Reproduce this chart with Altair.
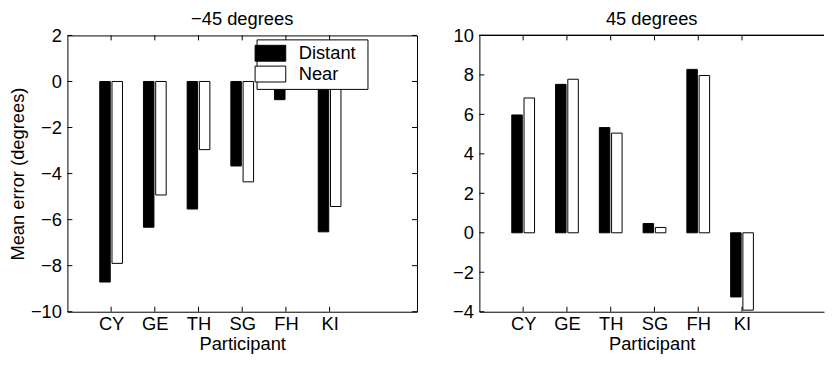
import altair as alt
import pandas as pd

participants = ["CY", "GE", "TH", "SG", "FH", "KI"]
conditions = ["Distant", "Near"]
neg45_distant = [-8.71, -6.33, -5.54, -3.67, -0.79, -6.53]
neg45_near = [-7.90, -4.93, -2.96, -4.36, -0.15, -5.43]
pos45_distant = [5.97, 7.52, 5.33, 0.47, 8.28, -3.25]
pos45_near = [6.83, 7.78, 5.05, 0.27, 7.97, -3.92]
neg45_yticks = [-10, -8, -6, -4, -2, 0, 2]
pos45_yticks = [-4, -2, 0, 2, 4, 6, 8, 10]

FONT = "Liberation Sans"
FS = 18.5
H = 279
W_LEFT = 353
W_RIGHT = 348
TICK = 5


def bars_df(distant, near):
    rows = []
    for i, p in enumerate(participants):
        rows.append({"participant": p, "idx": i + 1, "condition": conditions[0], "value": distant[i]})
        rows.append({"participant": p, "idx": i + 1, "condition": conditions[1], "value": near[i]})
    return pd.DataFrame(rows)


label_expr = "[" + ",".join("'%s'" % p for p in participants) + "][datum.value - 1]"
xticks_df = pd.DataFrame({"idx": list(range(1, len(participants) + 1))})


def panel(distant, near, yticks, title, width, xmax, ytitle, legend):
    df = bars_df(distant, near)
    xscale = alt.Scale(domain=[0, xmax], nice=False, zero=False)
    yscale = alt.Scale(domain=[yticks[0], yticks[-1]], nice=False, zero=False)
    xaxis = alt.Axis(values=list(range(1, len(participants) + 1)), labelExpr=label_expr,
                     ticks=False, grid=False, domain=(legend is None), domainColor="black",
                     labelFont=FONT, labelFontSize=FS, labelColor="black", labelPadding=2.5,
                     title="Participant", titleFont=FONT, titleFontSize=FS, titleFontWeight="normal",
                     titleColor="black", titlePadding=2)
    yaxis = alt.Axis(values=yticks, ticks=False, grid=False, domain=(legend is None), domainColor="black",
                     labelFont=FONT, labelFontSize=FS, labelColor="black", labelPadding=6,
                     title=ytitle, titleFont=FONT, titleFontSize=FS, titleFontWeight="normal",
                     titleColor="black", titlePadding=3)
    if legend is None:
        fill = alt.Fill("condition:N", scale=alt.Scale(domain=conditions, range=["black", "white"]), legend=None)
    else:
        fill = alt.Fill("condition:N", scale=alt.Scale(domain=conditions, range=["black", "white"]), legend=legend)

    bars = alt.Chart(df).transform_calculate(
        x0="datum.idx + (datum.condition == 'Distant' ? -0.26 : 0.02)",
        x1="datum.idx + (datum.condition == 'Distant' ? -0.02 : 0.26)",
        zero="0",
    ).mark_bar(stroke="black", strokeWidth=1).encode(
        x=alt.X("x0:Q", scale=xscale, axis=xaxis, title="Participant"),
        x2="x1:Q",
        y=alt.Y("value:Q", scale=yscale, axis=yaxis, title=ytitle),
        y2="zero:Q",
        fill=fill,
    )

    ydf = pd.DataFrame({"t": yticks})
    left_ticks = alt.Chart(ydf).mark_rule(color="black", strokeWidth=1).encode(
        y=alt.Y("t:Q", scale=yscale, axis=yaxis, title=ytitle),
        x=alt.value(0), x2=alt.value(TICK))
    right_ticks = alt.Chart(ydf).mark_rule(color="black", strokeWidth=1).encode(
        y=alt.Y("t:Q", scale=yscale, axis=yaxis, title=ytitle),
        x=alt.value(width - TICK), x2=alt.value(width))
    bottom_ticks = alt.Chart(xticks_df).mark_rule(color="black", strokeWidth=1).encode(
        x=alt.X("idx:Q", scale=xscale, axis=xaxis, title="Participant"),
        y=alt.value(H - TICK), y2=alt.value(H))
    top_ticks = alt.Chart(xticks_df).mark_rule(color="black", strokeWidth=1).encode(
        x=alt.X("idx:Q", scale=xscale, axis=xaxis, title="Participant"),
        y=alt.value(0), y2=alt.value(TICK))

    layers = [bars, left_ticks, bottom_ticks, top_ticks]
    if legend is not None:
        layers.append(right_ticks)
    else:
        top_line = alt.Chart(xticks_df).mark_rule(color="black", strokeWidth=1).encode(
            x=alt.value(0), x2=alt.value(width), y=alt.value(0))
        layers.append(top_line)

    view = alt.ViewBackground(stroke="black" if legend is not None else "transparent", strokeWidth=1)
    return alt.layer(*layers).properties(
        width=width, height=H, view=view,
        title=alt.TitleParams(title, font=FONT, fontSize=FS, fontWeight="normal", color="black", offset=-2),
    )


legend = alt.Legend(
    orient="none", legendX=191, legendY=4, title=None,
    symbolType="M-2.37,0M10.1,0M-1.72,-0.89H1.72V0.89H-1.72Z", symbolSize=324,
    symbolStrokeColor="black", symbolStrokeWidth=1,
    labelFont=FONT, labelFontSize=FS, labelColor="black", labelOffset=19,
    strokeColor="black", fillColor="white", padding=4.5, rowPadding=0,
)

left = panel(neg45_distant, neg45_near, neg45_yticks, "\u221245 degrees", W_LEFT, 8, "Mean error (degrees)", legend)
right = panel(pos45_distant, pos45_near, pos45_yticks, "45 degrees", W_RIGHT, 348 / 44.2, None, None)

chart = alt.hconcat(left, right, spacing=63, bounds="flush").resolve_scale(
    fill="independent"
).resolve_legend(fill="independent").properties(
    padding={"left": 0, "top": 0, "right": 0, "bottom": 0}
).configure(background="white")

chart.save("out.html", embed_options={"renderer": "svg", "actions": False})
